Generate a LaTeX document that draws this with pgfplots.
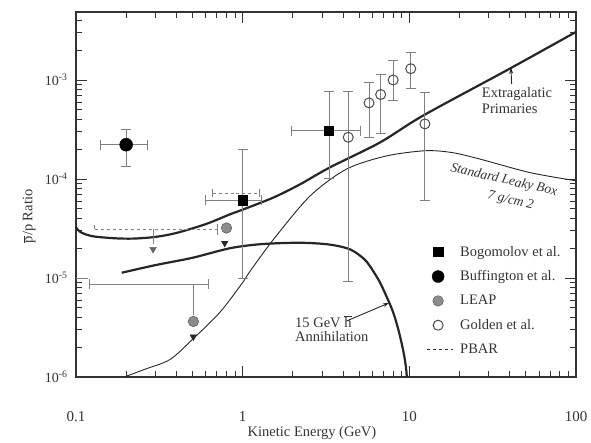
\documentclass[border=0pt]{standalone}
\usepackage{pgfplots}
\pgfplotsset{compat=1.18}
\usepackage{fontspec}
\setmainfont{Liberation Serif}
\usetikzlibrary{arrows.meta}
\newcommand{\fs}[1]{\fontsize{#1}{#1}\selectfont}
\begin{document}
\begin{tikzpicture}
\begin{axis}[name=ax, scale only axis, width=500bp, height=365bp,
  xmode=log, ymode=log, log basis x=10, log basis y=10,
  xmin=0.1, xmax=100, ymin=1e-6, ymax=4.86e-3,
  axis line style={black!80, line width=1.2bp},
  tick style={black!80, line width=0.9bp},
  major tick length=11bp, minor tick length=6bp,
  xticklabel={\ifdim\tick pt<-0.5pt 0.1\else\ifdim\tick pt<0.5pt 1\else\ifdim\tick pt<1.5pt 10\else 100\fi\fi\fi},
  yticklabel={\pgfmathparse{int(round(\tick))}10\textsuperscript{\pgfmathresult}},
  xticklabel style={font=\fs{15bp}, yshift=-31bp, text=black!80},
  yticklabel style={font=\fs{14bp}, xshift=-5bp, text=black!80},
  xlabel={Kinetic Energy (GeV)},
  ylabel={$\overline{\mbox{p}}$/p Ratio},
  label style={font=\fs{14.5bp}, text=black!80},
  xlabel style={at={(axis description cs:0.472,-0.153)}, anchor=center},
  ylabel style={at={(axis description cs:-0.094,0.44)}, anchor=center},
  legend style={at={(axis description cs:0.694,0.37)}, anchor=north west,
    draw=none, fill=none, font=\fs{14.5bp}, row sep=9bp, text=black!80},
  legend cell align=left,
  emark/.style={error bar style={black!50, line width=1bp},
    error mark options={black!50, line width=1bp, mark size=5bp, rotate=90}},
]
% ---------- curves ----------
% Extragalactic primaries
\addplot[black!85, line width=2.2bp, smooth, tension=0.5, forget plot] coordinates {
 (0.1,3.25e-5) (0.105,2.95e-5) (0.115,2.75e-5) (0.13,2.62e-5) (0.17,2.52e-5)
 (0.22,2.5e-5) (0.3,2.6e-5) (0.4,2.85e-5) (0.6,3.5e-5) (0.84,4.4e-5)
 (1.0,4.9e-5) (1.53,6.5e-5) (2.2,8.8e-5) (3.34,1.31e-4) (6.67,2.34e-4)
 (12.1,4.37e-4) (40,1.3e-3) (100,3.06e-3)};
% Standard leaky box
\addplot[black!85, line width=0.9bp, smooth, tension=0.5, forget plot] coordinates {
 (0.195,1.0e-6) (0.26,1.2e-6) (0.366,1.5e-6) (0.5,2.4e-6) (0.73,4.5e-6)
 (1.0,9.0e-6) (1.1,1.15e-5) (1.53,2.45e-5) (2.53,6.7e-5) (4.2,1.26e-4)
 (7.3,1.71e-4) (12.5,1.93e-4) (18,1.85e-4) (26.5,1.59e-4) (53,1.16e-4) (100,9.6e-5)};
% 15 GeV annihilation
\addplot[black!85, line width=2.2bp, smooth, tension=0.5, forget plot] coordinates {
 (0.188,1.13e-5) (0.3,1.35e-5) (0.5,1.6e-5) (0.84,2.0e-5) (1.3,2.2e-5)
 (2.2,2.27e-5) (3.3,2.18e-5) (4.4,1.95e-5) (5.3,1.58e-5) (5.8,1.32e-5)
 (6.6,9.3e-6) (7.3,6.5e-6) (8.0,4.5e-6) (8.6,3.0e-6) (9.1,2.0e-6)
 (9.4,1.5e-6) (9.6,1.15e-6) (9.65,1.0e-6)};
% ---------- PBAR (dashed upper limits) ----------
\addplot[black!50, dashed, line width=1bp, forget plot] coordinates {(0.13,3.1e-5) (0.71,3.1e-5)};
\addplot[black!50, line width=1bp, forget plot] coordinates {(0.71,2.75e-5) (0.71,3.5e-5)};
\addplot[black!50, line width=1bp, forget plot] coordinates {(0.13,3.1e-5) (0.13,3.4e-5)};
\addplot[black!50, line width=1bp, forget plot] coordinates {(0.29,3.1e-5) (0.29,2.2e-5)};
\addplot[only marks, mark=triangle*, mark size=3.8bp, black!60, mark options={rotate=180}, forget plot] coordinates {(0.29,1.95e-5)};
\addplot[black!50, dashed, line width=1bp, forget plot] coordinates {(0.66,7.2e-5) (1.27,7.2e-5)};
\addplot[black!50, line width=1bp, forget plot] coordinates {(0.66,6.6e-5) (0.66,7.9e-5)};
\addplot[black!50, line width=1bp, forget plot] coordinates {(1.27,6.6e-5) (1.27,7.9e-5)};
% ---------- LEAP ----------
\addplot[black!50, line width=1bp, forget plot] coordinates {(0.121,8.6e-6) (0.628,8.6e-6)};
\addplot[black!50, line width=1bp, forget plot] coordinates {(0.121,7.7e-6) (0.121,9.7e-6)};
\addplot[black!50, line width=1bp, forget plot] coordinates {(0.628,7.7e-6) (0.628,9.7e-6)};
\addplot[black!50, line width=1bp, forget plot] coordinates {(0.1,1e-5) (0.118,1e-5)};
\addplot[black!50, line width=1bp, forget plot] coordinates {(0.506,8.6e-6) (0.506,4.2e-6)};
\addplot[only marks, mark=*, mark size=5.3bp, draw=black!70, fill=black!45, forget plot] coordinates {(0.506,3.64e-6) (0.8,3.2e-5)};
\addplot[only marks, mark=triangle*, mark size=3.8bp, black!85, mark options={rotate=180}, forget plot] coordinates {(0.506,2.55e-6) (0.78,2.25e-5)};
% ---------- Buffington ----------
\addplot[only marks, mark=*, mark size=6.5bp, black, forget plot,
  error bars/.cd, x dir=both, y dir=both, x explicit, y explicit, /pgfplots/emark]
  coordinates {(0.2,2.22e-4) += (0.068,0.91e-4) -= (0.060,0.89e-4)};
% ---------- Bogomolov ----------
\addplot[only marks, mark=square*, mark size=4.6bp, black, forget plot,
  error bars/.cd, x dir=both, y dir=both, x explicit, y explicit, /pgfplots/emark]
  coordinates {(1.0,6.1e-5) += (0.3,1.39e-4) -= (0.4,5.1e-5)
               (3.3,3.08e-4) += (1.8,4.52e-4) -= (1.35,2.08e-4)};
% ---------- Golden ----------
\addplot[only marks, mark=o, mark size=5bp, black!70, line width=1bp, forget plot,
  error bars/.cd, y dir=both, y explicit, /pgfplots/emark]
  coordinates {(4.3,2.64e-4) += (0,4.96e-4) -= (0,2.547e-4)
               (5.73,5.87e-4) += (0,3.63e-4) -= (0,3.23e-4)
               (6.73,7.13e-4) += (0,4.17e-4) -= (0,4.24e-4)
               (8.0,1.0e-3) += (0,5.6e-4) -= (0,3.8e-4)
               (10.2,1.3e-3) += (0,5.9e-4) -= (0,4.7e-4)
               (12.4,3.6e-4) += (0,3.8e-4) -= (0,3.0e-4)};
% ---------- legend ----------
\addlegendimage{only marks, mark=square*, mark size=4.6bp, black}
\addlegendentry{\hspace{5bp}Bogomolov et al.}
\addlegendimage{only marks, mark=*, mark size=6bp, black}
\addlegendentry{\hspace{5bp}Buffington et al.}
\addlegendimage{only marks, mark=*, mark size=5.3bp, draw=black!70, fill=black!45}
\addlegendentry{\hspace{5bp}LEAP}
\addlegendimage{only marks, mark=o, mark size=5bp, black!70, line width=1bp}
\addlegendentry{\hspace{5bp}Golden et al.}
\addlegendimage{legend image code/.code={\draw[black!80, dashed, line width=1.2bp] (-0.1cm,0cm) -- ([xshift=6bp]0.6cm,0cm);}}
\addlegendentry{\hspace{5bp}PBAR}
% ---------- annotations ----------
\node[anchor=base west, inner sep=0, font=\fs{14.5bp}, text=black!80] at (axis cs:27.2,6.6e-4) {Extragalatic};
\node[anchor=base west, inner sep=0, font=\fs{14.5bp}, text=black!80] at (axis cs:27.2,4.59e-4) {Primaries};
\draw[-{Stealth[length=6bp,width=4bp]}, black!85, line width=0.9bp] (axis cs:41.1,9.14e-4) -- (axis cs:40.7,1.33e-3);
\node[rotate=-13, inner sep=0, font=\fs{13.5bp}\itshape, text=black!80] at (axis cs:36.9,9.7e-5) {Standard Leaky Box};
\node[rotate=-13, inner sep=0, font=\fs{13.5bp}\itshape, text=black!80] at (axis cs:40.5,6.0e-5) {7 g/cm 2};
\node[anchor=base west, inner sep=0, font=\fs{14.5bp}, text=black!80] at (axis cs:2.06,3.14e-6) {15 GeV $\overline{\mbox{h}}$};
\node[anchor=base west, inner sep=0, font=\fs{14.5bp}, text=black!80] at (axis cs:2.06,2.28e-6) {Annihilation};
\draw[-{Stealth[length=6bp,width=4bp]}, black!85, line width=0.9bp] (axis cs:4.23,3.7e-6) -- (axis cs:7.55,5.6e-6);
\end{axis}
\pgfresetboundingbox
\path ([shift={(-76bp,-66bp)}]ax.south west) rectangle ([shift={(15bp,12bp)}]ax.north east);
\end{tikzpicture}
\end{document}
